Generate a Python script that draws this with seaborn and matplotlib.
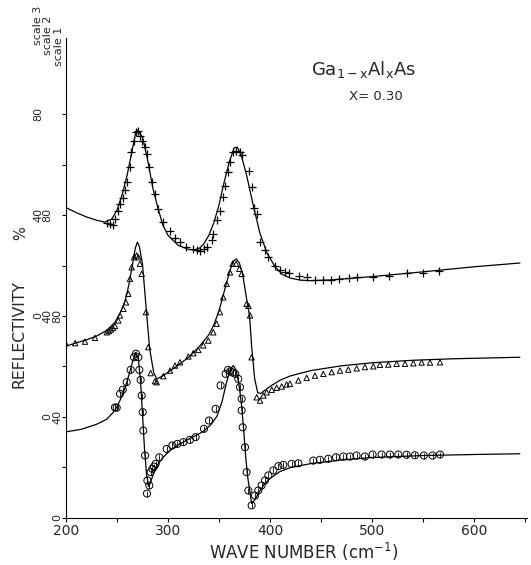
import numpy as np
import seaborn as sns
import matplotlib
matplotlib.use('Agg')
import matplotlib.pyplot as plt

# wave numbers (cm^-1) and reflectivity (%), each curve on its own scale
# scale 1 = circles (bottom), scale 2 = triangles (middle), scale 3 = crosses (top)
offsets = [0, 40, 80]

fit1_x = [200, 215, 230, 240, 248, 253, 258, 262, 265, 268, 271, 273, 275, 277, 279,
          281, 283, 286, 290, 295, 302, 310, 318, 326, 334, 342, 348, 353, 357, 361,
          364, 367, 370, 372, 374, 376, 378, 380, 382, 385, 390, 395, 400, 410, 420,
          440, 470, 500, 550, 600, 645]
fit1_y = [34, 35, 37, 39, 42.5, 46.5, 51.5, 57, 61.5, 65.5, 63, 54.4, 41.2, 27, 17,
          12.3, 14, 17.8, 21, 23.8, 26.6, 28.8, 30.6, 32.3, 34, 36.8, 40.2, 46, 53, 58.8,
          60.3, 58.3, 51.7, 45, 36, 25, 16.5, 11, 5.5, 7, 10.5, 13.5, 15.5, 18.3, 19.8,
          21.4, 22.8, 23.8, 24.6, 25, 25.3]

circ_x = [248, 249.7, 253, 255.6, 259.5, 263.4, 266.7, 268.6, 270.9, 271.9, 273.2, 274.2,
          275.2, 275.8, 277.5, 279.4, 279.8, 281.7, 283, 284.6, 286.3, 287.9, 291.5, 298.7,
          304.2, 309.1, 315, 321.5, 327.1, 335.3, 340.2, 346.7, 351.6, 356.5, 358.8, 361,
          363.5, 366, 368.9, 370.6, 372.2, 372.2, 373.2, 375.5, 377.1, 378.8, 382, 385.3,
          388.5, 391.8, 395.1, 398.4, 403.3, 408.2, 413.1, 421.2, 427.8, 442.5, 449, 457.2,
          464.7, 471.9, 478.4, 484.9, 493.1, 500.6, 509.4, 517.6, 525.8, 533.9, 542.1,
          550.9, 559.4, 566.7]
circ_y = [43.7, 43.6, 49.1, 50.7, 53.7, 58.6, 63.6, 65, 63.6, 58.6, 54.6, 48.4,
          41.8, 34.5, 24.6, 9.5, 14.7, 12.7, 18, 19.3, 20.2, 21.3, 23.9, 27.2,
          28.6, 29.2, 29.9, 30.8, 31.9, 35.2, 38.5, 43.1, 52.4, 57, 58.6, 58,
          57.5, 57, 55, 51.7, 47.1, 42.5, 35.8, 27.9, 18, 10.7, 4.8, 8.7,
          10.7, 12.7, 14.7, 16.7, 18.7, 20.4, 20.9, 21.3, 21.5, 22.6, 22.9, 23.3,
          23.9, 24.2, 24.2, 24.6, 24.2, 25, 25, 25, 25, 24.9, 24.7,
          24.6, 24.6, 25]

fit2_x = [200, 210, 220, 230, 240, 248, 253, 258, 262, 265, 268, 270, 272, 275, 278,
          282, 286, 289, 295, 300, 310, 320, 330, 340, 345, 350, 355, 360, 364, 367,
          370, 373, 377, 380, 382, 385, 388, 391, 395, 400, 410, 420, 440, 470, 500,
          540, 580, 645]
fit2_y = [28, 29.3, 30.5, 32, 34.3, 37.5, 41, 46, 53, 60, 67, 69.3, 67.5, 60.5, 46,
          27, 17.5, 15, 16.2, 17.6, 20.5, 23.5, 27.5, 32.5, 36.5, 42, 49.5, 57, 61.8, 62.6,
          61, 57, 47, 40, 28, 15, 9.5, 9.2, 10.5, 12, 14.5, 16.2, 18.3, 20.2, 21.4,
          22.4, 23, 23.6]

tri_x = [199.5, 209, 218.6, 228.4, 240, 242, 244, 246, 248, 251.3, 252.9, 256.2, 258.8,
         261.1, 262.7, 264.4, 266.7, 269.3, 270.9, 272.5, 274.2, 278.4, 280.7, 283, 287.3,
         288.9, 295.4, 302, 306.9, 311.8, 320, 324.8, 329.7, 334.6, 339.5, 344.4, 347.7,
         351, 354.2, 357.5, 360.8, 363.4, 366.7, 370, 372.2, 377.1, 378.9, 380.5, 382, 387,
         390.3, 393.5, 396.8, 401.7, 406.6, 411.5, 416.3, 419.6, 427.8, 436, 444.1, 452.3,
         460.5, 468.6, 476.8, 485, 493.1, 501.3, 507.8, 516, 524.2, 532.4, 540.5, 548.7,
         556.9, 566.7]
tri_y = [29.2, 29.2, 29.8, 31.3, 33.5, 34, 34.6, 35.2, 36, 38.2, 40.2, 42.8, 45.4,
         48.8, 54.7, 59.3, 63.3, 64, 63.3, 60.7, 56.7, 41.5, 27.6, 17.3, 14.1,
         13.7, 16.1, 18.3, 20.3, 21.6, 23.9, 25.2, 26.5, 28.3, 30.2, 33.5, 36.9,
         41.5, 47.4, 52.7, 57.3, 60.7, 60.7, 58.7, 56.7, 44.8, 44, 40.2, 23.6, 7.7,
         6.4, 8.4, 9.7, 10.7, 11.5, 12, 12.8, 13.1, 14.4, 15.4, 16.3, 17, 17.7,
         18.3, 18.7, 19.2, 19.7, 20, 20.6, 20.7, 21, 21, 21.2, 21.5, 21.5, 21.6]

fit3_x = [200, 210, 220, 230, 238, 245, 250, 255, 260, 265, 268, 270, 275, 280, 285,
          290, 295, 300, 310, 320, 325, 330, 335, 340, 345, 350, 355, 360, 365, 368,
          372, 377, 383, 390, 397, 405, 412, 420, 430, 440, 460, 500, 550, 600, 645]
fit3_y = [43, 41, 39.3, 38, 37.2, 38.5, 42, 48, 56, 66, 72, 73.8, 71, 62, 51,
          43, 36, 32, 28, 26.4, 26.2, 26.6, 28.5, 32, 37, 44, 53, 61, 66.8, 67,
          63.5, 56, 45, 33, 25, 19.5, 16.5, 15, 14.2, 14, 14.3, 15.6, 17.5, 19.5, 21]

cross_x = [240, 243, 246, 248, 251, 253, 256, 258, 260, 263, 264, 267, 269, 271, 273,
           275, 277.5, 279, 281, 284, 287, 290.5, 295, 302, 307, 312, 318, 325, 328, 331,
           335, 338, 343, 344, 348, 351, 354, 356, 359, 361, 364, 367, 370.5, 373, 379,
           382, 384, 387, 390, 395, 398, 405, 410, 415, 419, 428, 436, 444, 452, 460,
           468, 477, 485, 501, 517, 534, 550, 566]
cross_y = [36.8, 36.3, 35.9, 38.5, 41.8, 44.5, 46.9, 49.8, 53.3, 59, 65, 69.6, 72.9, 73.2, 71.6,
           69.6, 67, 64.3, 59, 53, 48.4, 42.5, 37.2, 33.9, 31, 29.3, 27.3, 26.6, 26, 25.7,
           26.6, 27.3, 30.2, 32.6, 37.9, 41.8, 47.1, 51.7, 57, 61, 65, 65.6, 65, 63.7, 57.7,
           51.1, 43, 40.5, 29.2, 26, 23.3, 20, 18.3, 17.3, 17.1, 16, 15.6, 14.4, 14.4, 14.4,
           14.7, 15.1, 15.4, 15.6, 16, 16.9, 17.2, 18]

xticks = [200, 300, 400, 500, 600]
tick_vals = [0, 40, 80]

sns.set_style("ticks")
plt.rcParams['font.family'] = ['DejaVu Sans']

fig = plt.figure(figsize=(5.31, 5.65), dpi=100)
ax = fig.add_axes([66 / 531, 47.5 / 565, 461 / 531, 480 / 565])

fits = [(fit1_x, fit1_y), (fit2_x, fit2_y), (fit3_x, fit3_y)]
for (fx, fy), off in zip(fits, offsets):
    sns.lineplot(x=fx, y=np.array(fy) + off, sort=False, estimator=None,
                 color='k', lw=0.9, ax=ax)

# circles with a vertical stroke, triangles, crosses
sns.scatterplot(x=circ_x, y=np.array(circ_y) + offsets[0], marker='o', s=26,
                facecolor='none', edgecolor='k', linewidth=0.7, ax=ax)
sns.scatterplot(x=circ_x, y=np.array(circ_y) + offsets[0], marker='|', s=24,
                color='k', linewidth=0.6, ax=ax)
sns.scatterplot(x=tri_x, y=np.array(tri_y) + offsets[1], marker='^', s=15,
                facecolor='none', edgecolor='k', linewidth=0.7, ax=ax)
sns.scatterplot(x=cross_x, y=np.array(cross_y) + offsets[2], marker='+', s=32,
                color='k', linewidth=0.9, ax=ax)

ax.set_xlim(200, 652)
ax.set_ylim(0, 190.5)
ax.set_xticks(np.arange(200, 651, 50))
ax.set_xticklabels([str(v) if v in xticks else '' for v in range(200, 651, 50)], fontsize=10)
ax.set_yticks(np.arange(0, 161, 20))
ax.set_yticklabels([])
ax.tick_params(direction='out', length=3, width=0.8, color='k', pad=1.5)
sns.despine(ax=ax)
for s in ['left', 'bottom']:
    ax.spines[s].set_linewidth(0.8)
    ax.spines[s].set_color('k')
ax.set_xlabel('')
ax.set_ylabel('')

# three columns of rotated y labels, one per scale
col_px = [57, 47.5, 38]
trans = ax.get_yaxis_transform()
for k, off in enumerate(offsets):
    for v in tick_vals:
        ax.text((col_px[k] - 66) / 461, v + off, str(v), transform=trans, rotation=90,
                ha='center', va='center', fontsize=8, clip_on=False)

fig.text(38 / 531, 1 - 25 / 565, 'scale 3', rotation=90, ha='center', va='center', fontsize=8)
fig.text(48 / 531, 1 - 35 / 565, 'scale 2', rotation=90, ha='center', va='center', fontsize=8)
fig.text(59 / 531, 1 - 46 / 565, 'scale 1', rotation=90, ha='center', va='center', fontsize=8)

fig.text(19 / 531, 1 - 334 / 565, 'REFLECTIVITY', rotation=90, ha='center', va='center',
         fontsize=11.3)
fig.text(21 / 531, 1 - 233 / 565, '%', rotation=90, ha='center', va='center', fontsize=10.5)

fig.text(304 / 531, 1 - 552 / 565, 'WAVE NUMBER (cm$^{-1}$)', ha='center', va='center',
         fontsize=12)

fig.text(363 / 531, 1 - 70 / 565, 'Ga$_{\\mathregular{1-x}}$Al$_{\\mathregular{x}}$As',
         ha='center', va='center', fontsize=13)
fig.text(376 / 531, 1 - 97 / 565, 'X= 0.30', ha='center', va='center', fontsize=9.5)

fig.savefig('out.png', dpi=100)
